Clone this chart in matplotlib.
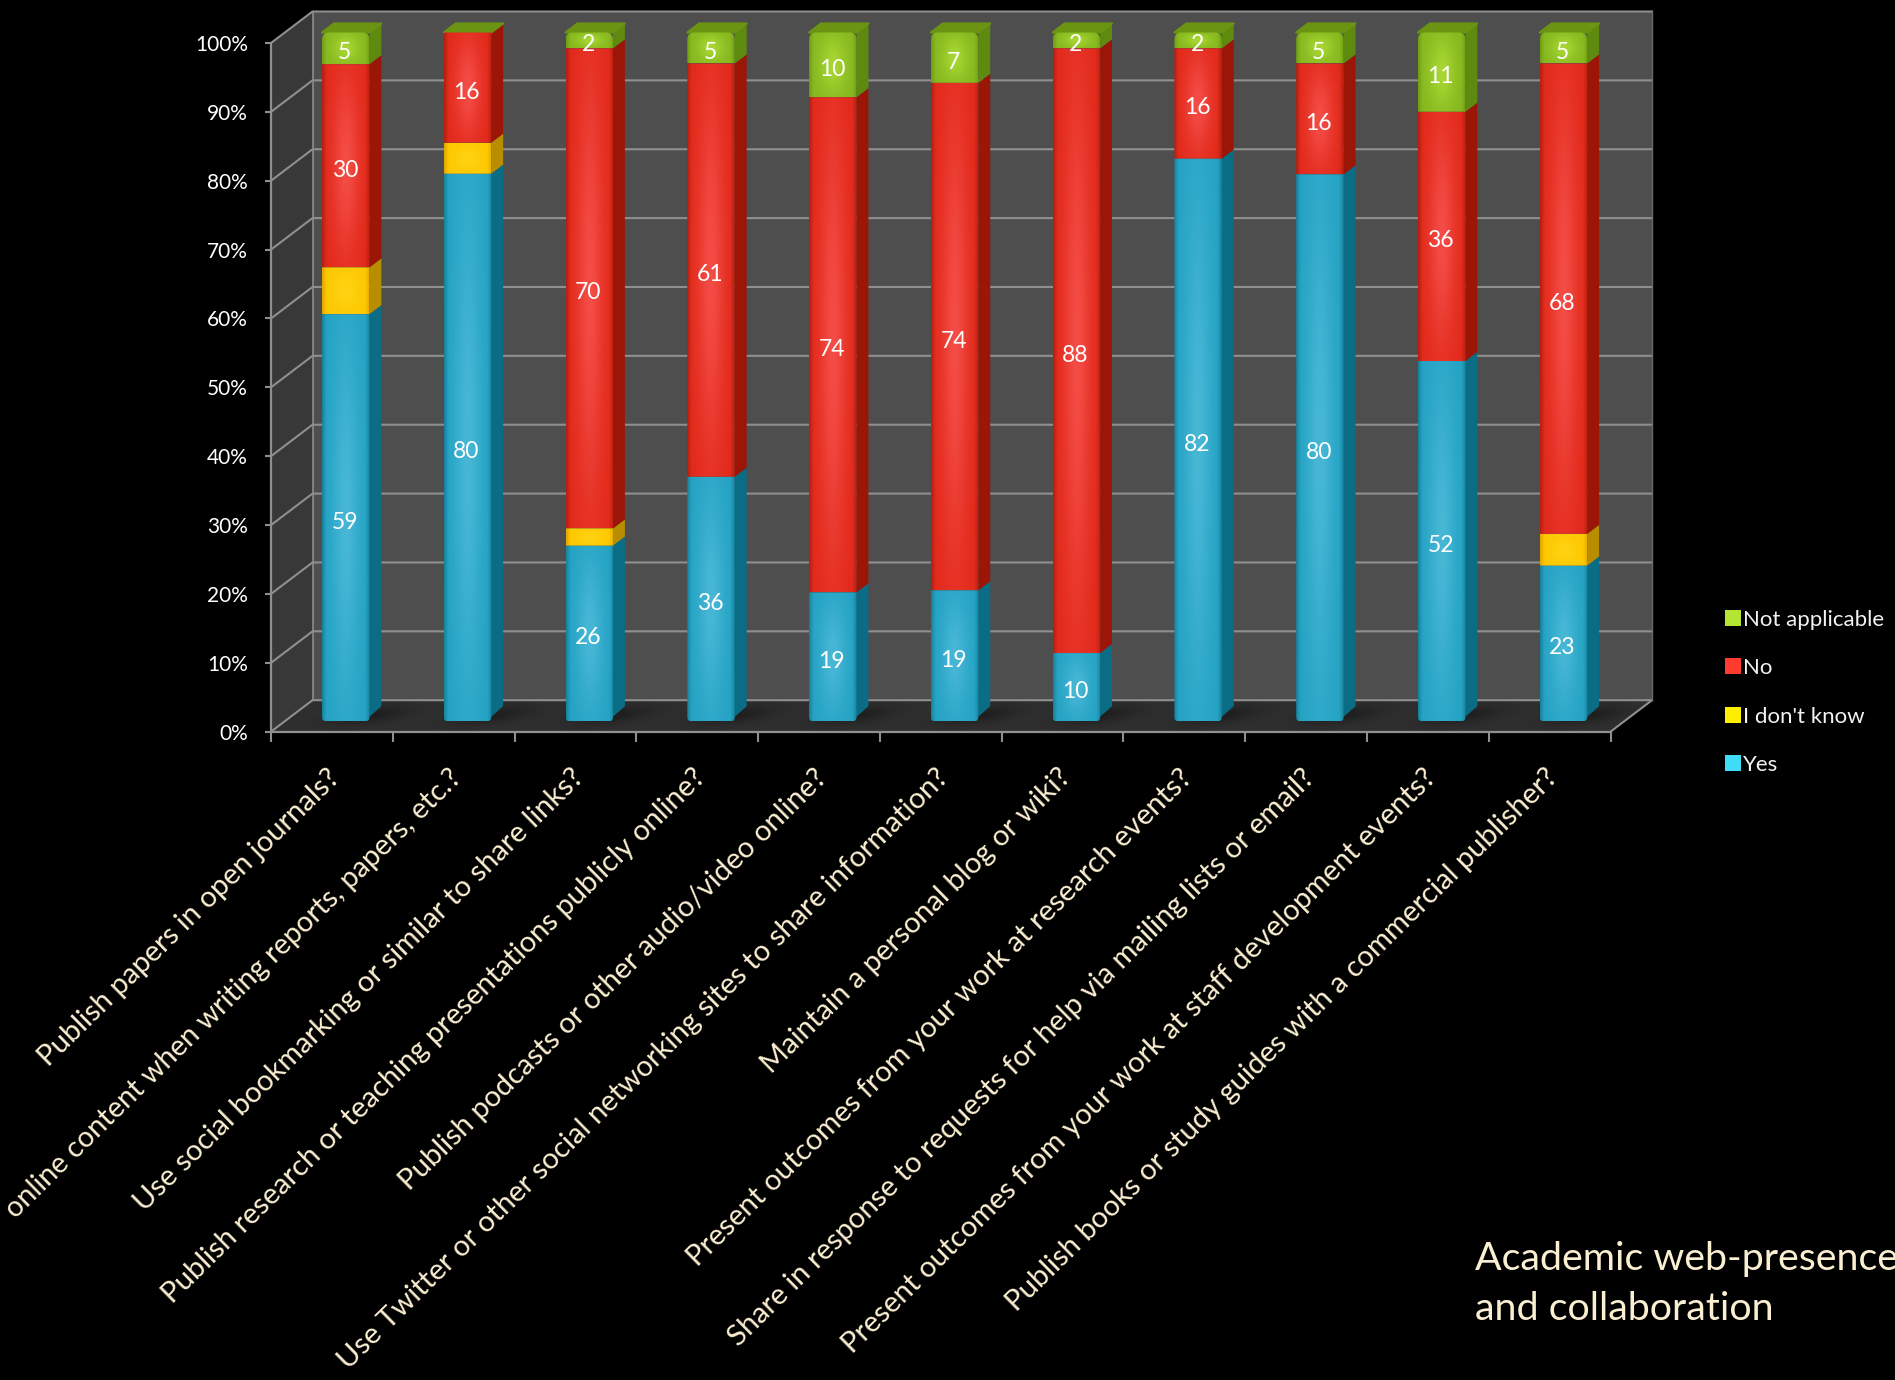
import numpy as np
import matplotlib
matplotlib.use("Agg")
import matplotlib.pyplot as plt
from matplotlib.path import Path
from matplotlib.patches import Polygon, Patch
from matplotlib.transforms import Affine2D, IdentityTransform

plt.rcParams['font.family'] = ['Lato', 'DejaVu Sans']

categories = [
    "Publish papers in open journals?",
    "online content when writing reports, papers, etc.?",
    "Use social bookmarking or similar to share links?",
    "Publish research or teaching presentations publicly online?",
    "Publish podcasts or other audio/video online?",
    "Use Twitter or other social networking sites to share information?",
    "Maintain a personal blog or wiki?",
    "Present outcomes from your work at research events?",
    "Share in response to requests for help via mailing lists or email?",
    "Present outcomes from your work at staff development events?",
    "Publish books or study guides with a commercial publisher?",
]
# segment heights
yes = [59.1, 79.5, 25.5, 35.5, 18.7, 19.0, 9.9, 81.7, 79.4, 52.3, 22.6]
idk = [6.8, 4.5, 2.5, 0, 0, 0, 0, 0, 0, 0, 4.6]
no = [29.5, 16.0, 69.7, 60.0, 71.9, 73.7, 87.8, 16.0, 16.1, 36.2, 68.3]
na = [4.6, 0, 2.3, 4.5, 9.4, 7.3, 2.3, 2.3, 4.5, 11.5, 4.5]
# printed labels
yes_labels = [59, 80, 26, 36, 19, 19, 10, 82, 80, 52, 23]
no_labels = [30, 16, 70, 61, 74, 74, 88, 16, 16, 36, 68]
na_labels = [5, None, 2, 5, 10, 7, 2, 2, 5, 11, 5]
series_names = ["Yes", "I don't know", "No", "Not applicable"]
series_values = [yes, idk, no, na]
series_labels = [yes_labels, None, no_labels, na_labels]
y_ticks = [0, 10, 20, 30, 40, 50, 60, 70, 80, 90, 100]
title_text = "Academic web-presence\nand collaboration"

# bright, mid, edge, side, top
palette = {
    "Yes": ("#48b7d6", "#25a3c4", "#178099", "#0b6c86", "#0b6c86"),
    "I don't know": ("#ffd313", "#fdc800", "#e0a500", "#b88d00", "#b88d00"),
    "No": ("#f44c46", "#e22a1b", "#b01f10", "#9c1608", "#9c1608"),
    "Not applicable": ("#a8d733", "#86b81f", "#6f9c14", "#5f8a10", "#6b9412"),
}
legend_colors = {"Yes": "#3fdcf5", "I don't know": "#ffee00",
                 "No": "#ff3b30", "Not applicable": "#b5e534"}
CREAM = "#fbefd2"
GRID = "#8f8f8f"

W, H = 1895, 1380
fig = plt.figure(figsize=(W / 100, H / 100), dpi=100, facecolor="black")
ax = fig.add_axes([271 / W, (H - 731.7) / H, 1339.5 / W, 688.7 / H])
ax.set_facecolor("none")
ax.set_autoscale_on(False)
n = len(categories)
ax.set_xlim(0, n)
ax.set_ylim(0, 100)

DX, DY = 41.5, 31.5


def proj(x, y, d=0.0):
    p = ax.transData.transform((x, y))
    return (p[0] + d * DX, p[1] + d * DY)


ident = IdentityTransform()


def poly(pts, color, z, lw=0.0, ec=None):
    ax.add_patch(Polygon(pts, closed=True, facecolor=color, edgecolor=ec or color,
                         linewidth=lw, transform=ident, clip_on=False, zorder=z,
                         joinstyle='round'))


BAR_W = 0.39
D0, D1 = 1 / 3, 0.62

# soft floor: an image in (x, depth) space, sheared onto the floor plane
xs, ds = np.meshgrid(np.linspace(0, n, 660), np.linspace(0, 1, 40))
shade = np.zeros_like(xs)
for i in range(n):
    shade += np.exp(-(((xs - i - 0.62 - 0.22 * (ds - 0.5)) / 0.27) ** 2 + ((ds - 0.52) / 0.30) ** 2))
shade = np.clip(shade, 0, 1)[..., None]
floor_img = np.array(matplotlib.colors.to_rgb("#2f2f2f")) * (1 - shade) \
    + np.array(matplotlib.colors.to_rgb("#1f1f1f")) * shade
p00, p10, p01 = proj(0, 0), proj(n, 0), proj(0, 0, 1)
floor_tf = Affine2D.from_values((p10[0] - p00[0]) / n, (p10[1] - p00[1]) / n,
                                p01[0] - p00[0], p01[1] - p00[1], p00[0], p00[1])
fim = ax.imshow(floor_img, extent=(0, n, 0, 1), origin='lower', aspect='auto',
                interpolation='bilinear', transform=floor_tf, zorder=0.4)
fim.set_clip_box(fig.bbox)
fim.set_clip_path(Path([proj(0, 0), proj(n, 0), proj(n, 0, 1), proj(0, 0, 1), proj(0, 0)]), ident)
ax.set_xlim(0, n)
ax.set_ylim(0, 100)

# walls (above the floor image so its edge cannot spill on them)
poly([proj(0, 0), proj(0, 100), proj(0, 100, 1), proj(0, 0, 1)], "#383838", 0.5)
poly([proj(0, 0, 1), proj(0, 100, 1), proj(n, 100, 1), proj(n, 0, 1)], "#4e4e4e", 0.5)

for t in y_ticks:
    a, b, c = proj(0, t), proj(0, t, 1), proj(n, t, 1)
    ax.plot([a[0], b[0], c[0]], [a[1], b[1], c[1]], color=GRID, lw=1.5,
            transform=ident, clip_on=False, zorder=0.8)
a, b = proj(0, 0, 1), proj(0, 100, 1)
ax.plot([a[0], b[0]], [a[1], b[1]], color=GRID, lw=1.2, transform=ident, clip_on=False, zorder=0.8)
a, b = proj(n, 0), proj(n, 0, 1)
ax.plot([a[0], b[0]], [a[1], b[1]], color=GRID, lw=1.5, transform=ident, clip_on=False, zorder=0.8)
a, b = proj(n, 0, 1), proj(n, 100, 1)
ax.plot([a[0], b[0]], [a[1], b[1]], color="#6a6a6a", lw=1.0, transform=ident, clip_on=False, zorder=0.8)

# axes furniture
for s in ("top", "right"):
    ax.spines[s].set_visible(False)
for s in ("left", "bottom"):
    ax.spines[s].set_color(GRID)
    ax.spines[s].set_linewidth(1.6)
    ax.spines[s].set_zorder(1)
ax.set_yticks(y_ticks, labels=[f"{t}%" for t in y_ticks])
ax.set_xticks(np.arange(n + 1), labels=[""] * (n + 1))
ax.tick_params(axis='y', colors=GRID, length=4.5, width=1.5, pad=12, labelcolor="white", labelsize=15)
ax.tick_params(axis='x', which='major', colors=GRID, length=7, width=1.5)
ax.set_xticks(np.arange(n) + 0.5, labels=categories, minor=True)
ax.tick_params(axis='x', which='minor', length=0, pad=23.5, labelcolor=CREAM, labelsize=21.1)
for j, lab in enumerate(ax.get_xticklabels(minor=True)):
    lab.set_rotation(44.5)
    lab.set_rotation_mode('anchor')
    lab.set_ha('right')
    lab.set_va('top')
    if j == 1:
        lab.set_fontsize(20.8)
    lab.set_transform(lab.get_transform() + Affine2D().translate(-5, 0))


def hexrgb(c):
    return np.array(matplotlib.colors.to_rgb(c))


def face_array(name):
    bright, mid, edge, _, _ = [hexrgb(c) for c in palette[name]]
    u, v = np.meshgrid(np.linspace(-1, 1, 80), np.linspace(-1, 1, 80))
    glow = np.exp(-(u ** 2 / 0.30 + v ** 2 / 0.75))[..., None]
    rim = np.clip((np.abs(u) - 0.78) / 0.22, 0, 1)[..., None] ** 1.5
    col = mid + (bright - mid) * glow
    return col * (1 - rim) + edge * rim


def rrect(x0, y0, x1, y1, rb, rt):
    verts, codes = [], []
    verts += [(x0 + rb, y0)]; codes += [Path.MOVETO]
    verts += [(x1 - rb, y0), (x1, y0), (x1, y0 + rb)]; codes += [Path.LINETO, Path.CURVE3, Path.CURVE3]
    verts += [(x1, y1 - rt), (x1, y1), (x1 - rt, y1)]; codes += [Path.LINETO, Path.CURVE3, Path.CURVE3]
    verts += [(x0 + rt, y1), (x0, y1), (x0, y1 - rt)]; codes += [Path.LINETO, Path.CURVE3, Path.CURVE3]
    verts += [(x0, y0 + rb), (x0, y0), (x0 + rb, y0)]; codes += [Path.LINETO, Path.CURVE3, Path.CURVE3]
    return Path(verts, codes)


front = ax.transData + Affine2D().translate(D0 * DX, D0 * DY)
label_tf = front + Affine2D().translate(-1, -4.5)

for i in range(n):
    vals = np.array([s[i] for s in series_values], dtype=float)
    cum = 0.0
    x0, x1 = i + 0.5 - BAR_W / 2, i + 0.5 + BAR_W / 2
    for k, name in enumerate(series_names):
        v = vals[k]
        if v <= 0:
            continue
        y0, y1 = cum, cum + v
        cum = y1
        side = palette[name][3]
        inset = 4 if k == 0 else 0
        if k == 0:
            b0, b1 = proj(x1, y0, D0), proj(x1, y0, D1)
            poly([(b0[0] - 5, b0[1]), (b1[0], b1[1] + 6), proj(x1, y1, D1), proj(x1, y1, D0)], side, 3)
        else:
            poly([proj(x1, y0, D0), proj(x1, y0, D1), proj(x1, y1, D1), proj(x1, y1, D0)], side, 3)
        rounded_top = (name == "Not applicable")
        im = ax.imshow(face_array(name), extent=(x0, x1, y0, y1), origin='lower',
                       aspect='auto', interpolation='bilinear', transform=front,
                       zorder=3.2)
        a0, b0 = proj(x0, y0, D0)
        a1, b1 = proj(x1, y1, D0)
        im.set_clip_box(fig.bbox)
        im.set_clip_path(rrect(a0, b0, a1, b1, inset, 7 if rounded_top else 0), ident)
        labels = series_labels[k]
        if labels is not None and labels[i] is not None:
            ax.text((x0 + x1) / 2, (y0 + y1) / 2, f"{labels[i]}", color="white",
                    fontsize=16.5, ha='center', va='center', transform=label_tf,
                    zorder=4, clip_on=False)
    # lid
    lid = palette["Not applicable"][4]
    poly([proj(x0, 100, D0), proj(x1, 100, D0), proj(x1, 100, D1), proj(x0, 100, D1)], lid, 3.1, lw=1.5)

ax.set_xlim(0, n)
ax.set_ylim(0, 100)

handles = [Patch(facecolor=legend_colors[nm], label=nm) for nm in reversed(series_names)]
leg = fig.legend(handles=handles, loc='upper left', bbox_to_anchor=(1718 / W, (H - 603) / H),
                 bbox_transform=fig.transFigure, frameon=False, fontsize=16,
                 labelcolor="#f2f2f2", handlelength=0.72, handleheight=0.72,
                 handletextpad=0.1, labelspacing=1.28, borderpad=0.3, borderaxespad=0)

fig.text(1475 / W, (H - 1320) / H, title_text, color=CREAM, fontsize=28.4, ha='left',
         va='baseline', linespacing=1.47)

fig.savefig("out.png", dpi=100, facecolor="black")
